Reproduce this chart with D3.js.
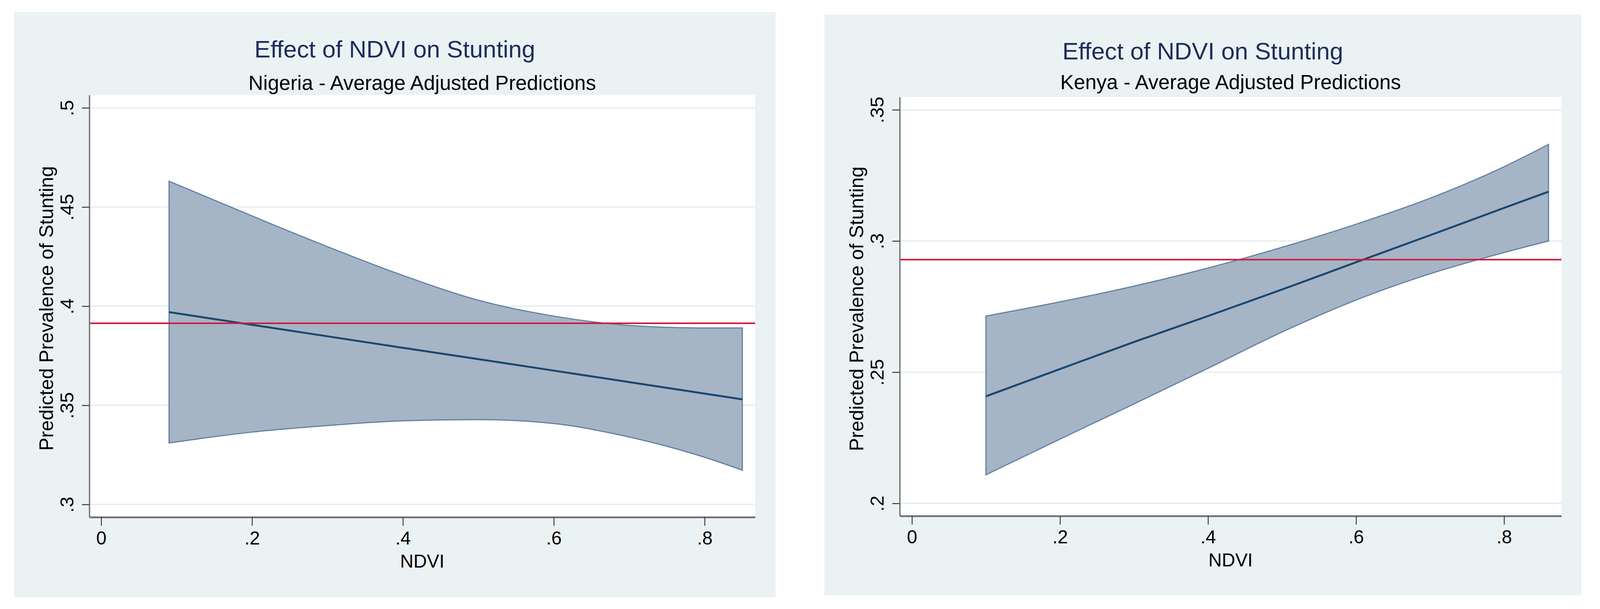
<!DOCTYPE html>
<html>
<head>
<meta charset="utf-8">
<script src="https://cdn.jsdelivr.net/npm/d3@7"></script>
<style>
  html, body { margin: 0; padding: 0; width: 100%; height: 100%; overflow: hidden; background: #fff; }
  svg { display: block; }
</style>
</head>
<body>
<svg></svg>
<script>
const FONT = "'Liberation Sans', Arial, Helvetica, sans-serif";

const titleText = 'Effect of NDVI on Stunting';
const xLabel = 'NDVI';
const yLabel = 'Predicted Prevalence of Stunting';
const xTicks = [0, 0.2, 0.4, 0.6, 0.8];
const xTickLabels = ['0', '.2', '.4', '.6', '.8'];

// Nigeria - average adjusted predictions with CI
const nigeriaNdvi = [0.09, 0.2, 0.3, 0.4, 0.5, 0.6, 0.7, 0.8, 0.85];
const nigeriaUpper = [0.463, 0.4455, 0.43, 0.4155, 0.403, 0.395, 0.3903, 0.389, 0.389];
const nigeriaLower = [0.331, 0.3365, 0.3398, 0.3422, 0.3428, 0.3408, 0.334, 0.3238, 0.3173];
const nigeriaPred = [0.397, 0.3906, 0.3848, 0.379, 0.3733, 0.3675, 0.3617, 0.3559, 0.353];
const nigeriaMean = 0.3914;
const nigeriaYTicks = [0.3, 0.35, 0.4, 0.45, 0.5];
const nigeriaYTickLabels = ['.3', '.35', '.4', '.45', '.5'];

// Kenya
const kenyaNdvi = [0.1, 0.2, 0.3, 0.4, 0.5, 0.6, 0.7, 0.8, 0.86];
const kenyaUpper = [0.2714, 0.2768, 0.2828, 0.2897, 0.2976, 0.3064, 0.3163, 0.3283, 0.3368];
const kenyaLower = [0.2109, 0.2245, 0.2379, 0.2515, 0.2653, 0.2775, 0.2875, 0.2956, 0.3];
const kenyaPred = [0.2408, 0.2512, 0.2615, 0.2714, 0.2815, 0.2919, 0.3022, 0.3126, 0.3188];
const kenyaMean = 0.2929;
const kenyaYTicks = [0.2, 0.25, 0.3, 0.35];
const kenyaYTickLabels = ['.2', '.25', '.3', '.35'];

// layout is designed on a 4316x1558 canvas and stretched to the real viewport
const W = window.innerWidth || 4316;
const H = window.innerHeight || 1558;
const sx = W / 4316;
const sy = H / 1558;

const svg = d3.select('svg').attr('width', W).attr('height', H);

const drawChart = (c) => {
  const g = svg.append('g');
  const [pl, pt, pr, pb] = [c.panel[0] * sx, c.panel[1] * sy, c.panel[2] * sx, c.panel[3] * sy];
  const [left, top, right, bottom] = [c.plot[0] * sx, c.plot[1] * sy, c.plot[2] * sx, c.plot[3] * sy];

  g.append('rect')
    .attr('x', pl).attr('y', pt)
    .attr('width', pr - pl).attr('height', pb - pt)
    .attr('fill', '#eaf2f3');

  const x = d3.scaleLinear().domain(c.xDomain).range([left, right]);
  const y = d3.scaleLinear().domain(c.yDomain).range([bottom, top]);

  g.append('rect')
    .attr('x', left).attr('y', top)
    .attr('width', right - left).attr('height', bottom - top)
    .attr('fill', '#ffffff');

  // gridlines
  g.selectAll('.grid')
    .data(c.yTicks)
    .join('line')
    .attr('class', 'grid')
    .attr('x1', left).attr('x2', right)
    .attr('y1', (d) => y(d)).attr('y2', (d) => y(d))
    .attr('stroke', '#e6eff1')
    .attr('stroke-width', 4 * sy);

  const rows = c.ndvi.map((v, i) => ({ ndvi: v, lo: c.lower[i], hi: c.upper[i], p: c.pred[i] }));

  const area = d3.area()
    .x((d) => x(d.ndvi))
    .y0((d) => y(d.lo))
    .y1((d) => y(d.hi))
    .curve(d3.curveMonotoneX);

  g.append('path')
    .datum(rows)
    .attr('d', area)
    .attr('fill', '#a5b5c6')
    .attr('stroke', '#6381a3')
    .attr('stroke-width', 3 * sy);

  const line = d3.line()
    .x((d) => x(d.ndvi))
    .y((d) => y(d.p))
    .curve(d3.curveMonotoneX);

  g.append('path')
    .datum(rows)
    .attr('d', line)
    .attr('fill', 'none')
    .attr('stroke', '#1a476f')
    .attr('stroke-width', 5 * sy);

  // sample mean reference line
  g.append('line')
    .attr('x1', x(c.xDomain[0])).attr('x2', x(c.xDomain[1]))
    .attr('y1', y(c.mean)).attr('y2', y(c.mean))
    .attr('stroke', '#d01c3c')
    .attr('stroke-width', 4 * sy);

  // axes
  const yAxis = g.append('g')
    .attr('transform', `translate(${left},0)`)
    .call(d3.axisLeft(y).tickValues(c.yTicks).tickFormat((d, i) => c.yTickLabels[i]).tickSize(20 * sx).tickSizeOuter(0));
  yAxis.attr('font-family', FONT).attr('font-size', 49 * sy);
  yAxis.select('.domain').attr('stroke', '#707070').attr('stroke-width', 3.5 * sx);
  yAxis.selectAll('.tick line').attr('stroke', '#3a3a3a').attr('stroke-width', 2.5 * sy);
  yAxis.selectAll('.tick text')
    .attr('transform', 'rotate(-90)')
    .attr('x', 0).attr('y', -43 * sx).attr('dy', 0)
    .attr('text-anchor', 'middle')
    .attr('fill', '#000');

  const xAxis = g.append('g')
    .attr('transform', `translate(0,${bottom})`)
    .call(d3.axisBottom(x).tickValues(xTicks).tickFormat((d, i) => xTickLabels[i]).tickSize(22 * sy).tickSizeOuter(0));
  xAxis.attr('font-family', FONT).attr('font-size', 50 * sx);
  xAxis.select('.domain').attr('stroke', '#707070').attr('stroke-width', 4.5 * sy);
  xAxis.selectAll('.tick line').attr('stroke', '#3a3a3a').attr('stroke-width', 2.5 * sx);
  xAxis.selectAll('.tick text').attr('y', 70 * sy).attr('dy', 0).attr('fill', '#000');

  // titles
  g.append('text')
    .attr('x', (pl + pr) / 2).attr('y', c.titleY * sy)
    .attr('text-anchor', 'middle')
    .attr('font-family', FONT).attr('font-size', 65 * sx)
    .attr('fill', '#1e2d5c')
    .text(titleText);

  g.append('text')
    .attr('x', (left + right) / 2).attr('y', c.subtitleY * sy)
    .attr('text-anchor', 'middle')
    .attr('font-family', FONT).attr('font-size', 55 * sx)
    .attr('fill', '#000')
    .text(c.subtitle);

  g.append('text')
    .attr('x', (left + right) / 2).attr('y', bottom + 129 * sy)
    .attr('text-anchor', 'middle')
    .attr('font-family', FONT).attr('font-size', 50 * sx)
    .attr('fill', '#000')
    .text(xLabel);

  g.append('text')
    .attr('transform', `translate(${left - 98 * sx},${(top + bottom) / 2 + 6 * sy}) rotate(-90)`)
    .attr('text-anchor', 'middle')
    .attr('font-family', FONT).attr('font-size', 50 * sy)
    .attr('fill', '#000')
    .text(yLabel);
};

drawChart({
  subtitle: 'Nigeria - Average Adjusted Predictions',
  ndvi: nigeriaNdvi, upper: nigeriaUpper, lower: nigeriaLower, pred: nigeriaPred,
  mean: nigeriaMean, yTicks: nigeriaYTicks, yTickLabels: nigeriaYTickLabels,
  xDomain: [-0.0157, 0.867], yDomain: [0.2936, 0.5065],
  panel: [38, 31, 2092, 1528], plot: [241, 243, 2037, 1323],
  titleY: 147, subtitleY: 230
});

drawChart({
  subtitle: 'Kenya - Average Adjusted Predictions',
  ndvi: kenyaNdvi, upper: kenyaUpper, lower: kenyaLower, pred: kenyaPred,
  mean: kenyaMean, yTicks: kenyaYTicks, yTickLabels: kenyaYTickLabels,
  xDomain: [-0.0165, 0.8775], yDomain: [0.1952, 0.3549],
  panel: [2224, 37, 4265, 1523], plot: [2427, 248, 4212, 1320],
  titleY: 152, subtitleY: 228
});
</script>
</body>
</html>
